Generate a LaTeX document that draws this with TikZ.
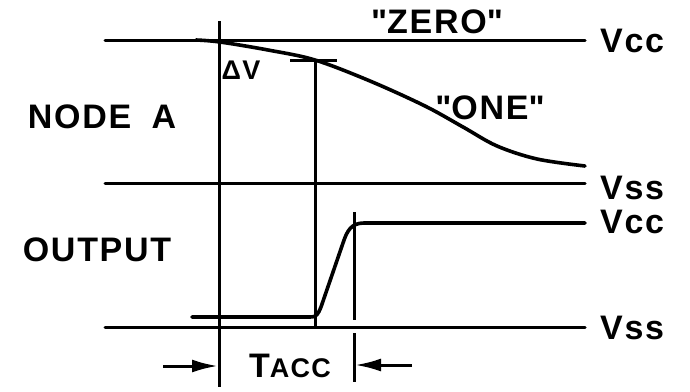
\documentclass[tikz,border=0pt]{standalone}
\usepackage{fontspec}
\setmainfont[LetterSpace=5]{Liberation Sans}
\usetikzlibrary{arrows.meta}
\tikzset{
  rail/.style={line width=3pt,line cap=round},
  wave/.style={line width=3.6pt,line cap=round,line join=round},
  marker/.style={line width=3pt},
  lbl/.style={font=\fontsize{34}{40}\selectfont\bfseries,inner sep=0pt},
  smalllbl/.style={font=\fontsize{27}{32}\selectfont\bfseries,inner sep=0pt},
  dimarrow/.style={line width=3pt,-{Latex[length=26pt,width=13pt]}}
}

\begin{document}
\begin{tikzpicture}[x=1pt,y=-1pt]
\useasboundingbox (0,0) rectangle (690,391);
% supply rails
\coordinate (vccAl) at (105,40);  \coordinate (vccAr) at (585,40);
\coordinate (vssAl) at (105,183); \coordinate (vssAr) at (585,183);
\coordinate (vssOl) at (105,327); \coordinate (vssOr) at (585,327);
\draw[rail] (vccAl) -- (vccAr);
\draw[rail] (vssAl) -- (vssAr);
\draw[rail] (vssOl) -- (vssOr);
% node A discharge
\draw[wave] plot[smooth,tension=0.55] coordinates {(196,40) (220,42) (268,50) (315,60)
  (370,81) (425,106) (463,127) (497,146) (537,159) (585,166)};
% output edge
\draw[wave] (192,317) -- (310,317) .. controls (317,317) and (318,314) .. (321,307)
  -- (343,243) .. controls (347,231) and (351,223) .. (364,223) -- (585,223);
% timing markers
\coordinate (t0top) at (219,21);  \coordinate (t0bot) at (219,387);
\coordinate (t1top) at (315,60);  \coordinate (t1bot) at (315,327);
\coordinate (t2top) at (354,212); \coordinate (t2mid) at (354,320);
\coordinate (t2low) at (354,333); \coordinate (t2bot) at (354,382);
\draw[marker] (t0top) -- (t0bot);
\draw[marker] (t1top) -- (t1bot);
\draw[marker] (290,60) -- (337,60);
\draw[marker] (t2top) -- (t2mid);
\draw[marker] (t2low) -- (t2bot);
% access time
\coordinate (accL) at (163,366); \coordinate (accR) at (412,365);
\draw[dimarrow] (accL) -- (218,366);
\draw[dimarrow] (accR) -- (355,365);
% labels
\node[lbl] (zero) at (437,22) {\textquotedbl ZERO\textquotedbl};
\node[lbl] (one) at (490,108) {\textquotedbl ONE\textquotedbl};
\node[smalllbl] (dv) at (241,70) {ΔV};
\node[lbl] (nodea) at (102,117) {NODE\hspace{0.6em}A};
\node[lbl] (outp) at (97,250) {OUTPUT};
\node[lbl,anchor=west] (vccA) at (600,41) {Vcc};
\node[lbl,anchor=west] (vssA) at (600,188) {Vss};
\node[lbl,anchor=west] (vccO) at (600,222) {Vcc};
\node[lbl,anchor=west] (vssO) at (600,328) {Vss};
\node[lbl,anchor=base] (tacc) at (290,377) {T{\fontsize{27}{32}\selectfont ACC}};
\end{tikzpicture}
\end{document}
